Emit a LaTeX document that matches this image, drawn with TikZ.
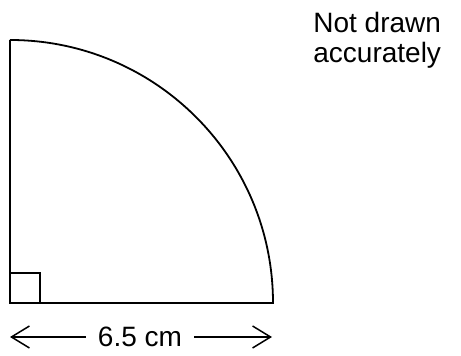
\documentclass[tikz,border=0pt]{standalone}
\usepackage{fontspec}
\setmainfont{Liberation Sans}
\usetikzlibrary{arrows.meta}
\begin{document}
\begin{tikzpicture}[x=0.5pt,y=-0.5pt,
  shape line/.style={line width=0.9pt,line join=miter},
  dim arrow/.style={line width=0.75pt,-{Straight Barb[length=9pt,width=11pt,line width=0.75pt]}},
  lbl/.style={font=\fontsize{14}{16}\selectfont,inner sep=0pt}]
\useasboundingbox (0,0) rectangle (461,356);
\coordinate (O) at (10,303);
\coordinate (A) at (273,303);
\coordinate (B) at (10,40);
\draw[shape line] (B) -- (O) -- (A) arc[start angle=0,end angle=90,radius=131.5pt];
\draw[line width=0.6pt] (10,273) rectangle (40,303);
\node[lbl,anchor=base] (d) at (140,347) {6.5 cm};
\coordinate (L) at (10,337);
\coordinate (R) at (272,337);
\draw[dim arrow] (d.west |- L) ++(-12,0) -- (L);
\draw[dim arrow] (d.east |- R) ++(12,0) -- (R);
\node[lbl,anchor=base west] (t1) at (313,33) {Not drawn};
\node[lbl,anchor=base west] (t2) at (313,63) {accurately};
\end{tikzpicture}
\end{document}
